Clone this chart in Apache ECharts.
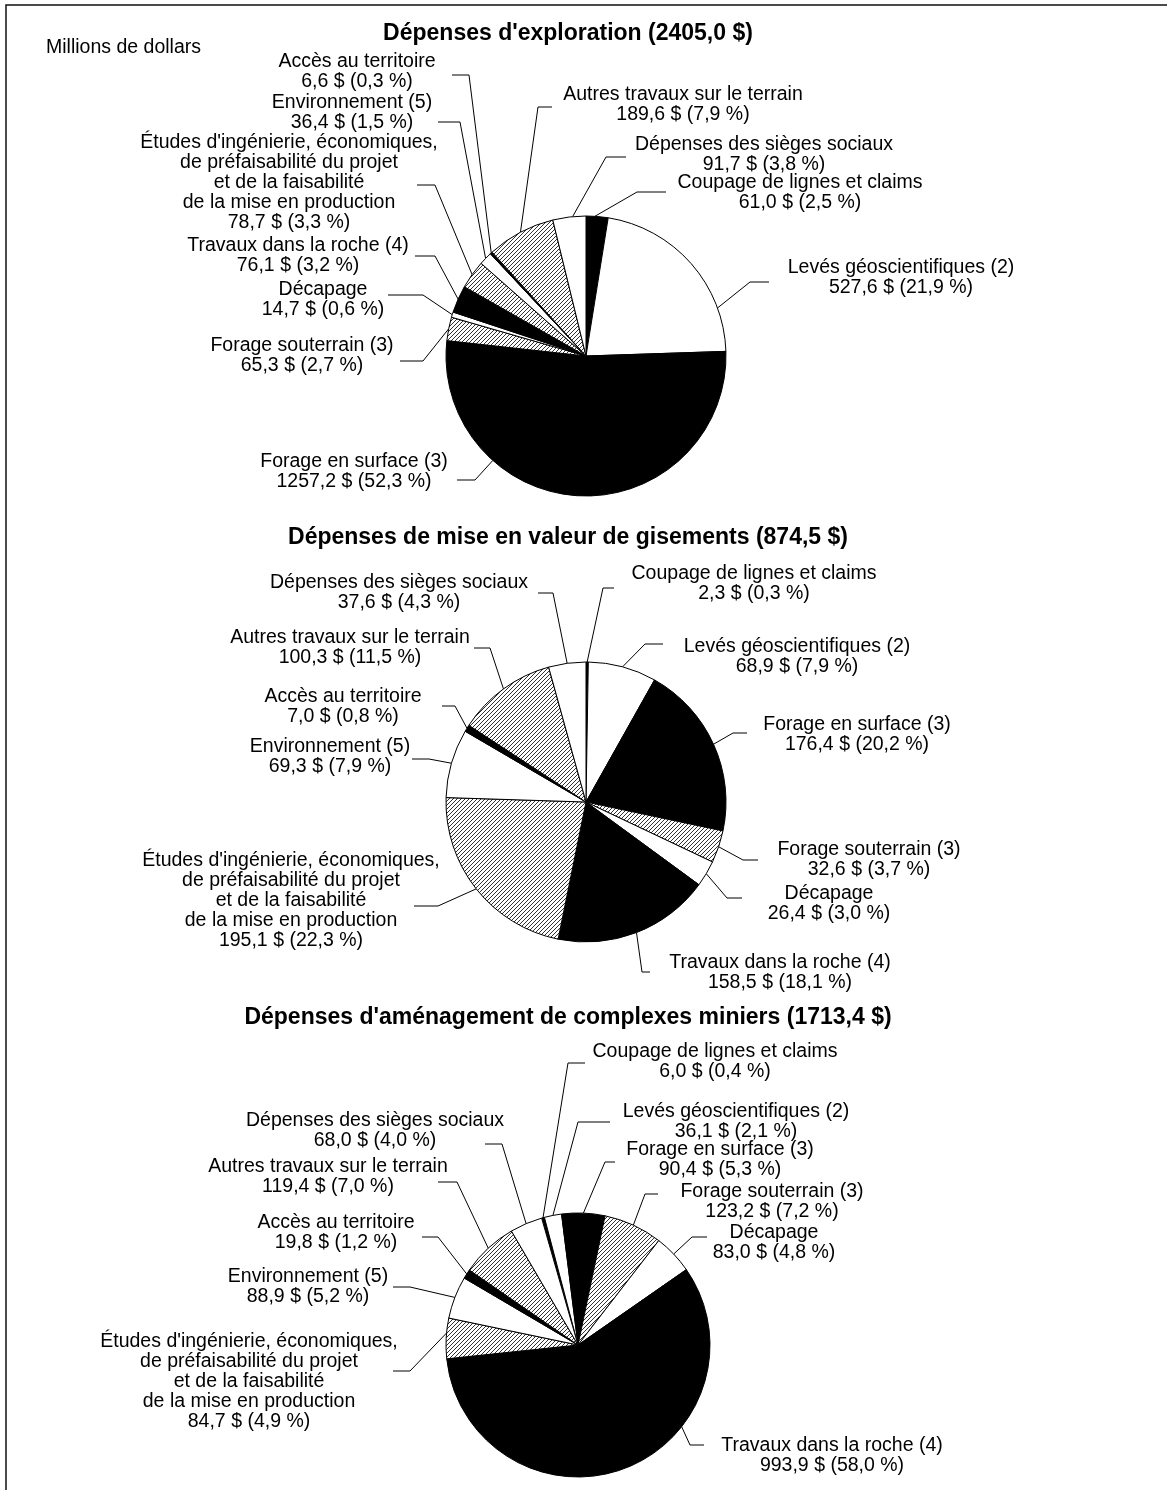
<!DOCTYPE html>
<html lang="fr">
<head>
<meta charset="utf-8">
<title>Dépenses d'exploration, de mise en valeur et d'aménagement</title>
<script src="https://cdn.jsdelivr.net/npm/echarts@6/dist/echarts.min.js"></script>
<style>
  html, body { margin: 0; padding: 0; background: #fff; }
  #chart { width: 1167px; height: 1490px; }
</style>
</head>
<body>
<div id="chart"></div>
<script>
// Expense categories, in clockwise order from the start of each pie
const categories = [
  'Coupage de lignes et claims',
  'Levés géoscientifiques (2)',
  'Forage en surface (3)',
  'Forage souterrain (3)',
  'Décapage',
  'Travaux dans la roche (4)',
  "Études d'ingénierie, économiques,\nde préfaisabilité du projet\net de la faisabilité\nde la mise en production",
  'Environnement (5)',
  'Accès au territoire',
  'Autres travaux sur le terrain',
  'Dépenses des sièges sociaux'
];

// Millions de dollars
const explorationValues = [61.0, 527.6, 1257.2, 65.3, 14.7, 76.1, 78.7, 36.4, 6.6, 189.6, 91.7];
const explorationPct    = [2.5, 21.9, 52.3, 2.7, 0.6, 3.2, 3.3, 1.5, 0.3, 7.9, 3.8];

const miseEnValeurValues = [2.3, 68.9, 176.4, 32.6, 26.4, 158.5, 195.1, 69.3, 7.0, 100.3, 37.6];
const miseEnValeurPct    = [0.3, 7.9, 20.2, 3.7, 3.0, 18.1, 22.3, 7.9, 0.8, 11.5, 4.3];

const amenagementValues = [6.0, 36.1, 90.4, 123.2, 83.0, 993.9, 84.7, 88.9, 19.8, 119.4, 68.0];
const amenagementPct    = [0.4, 2.1, 5.3, 7.2, 4.8, 58.0, 4.9, 5.2, 1.2, 7.0, 4.0];

const totals = [2405.0, 874.5, 1713.4];
const titles = [
  "Dépenses d'exploration",
  'Dépenses de mise en valeur de gisements',
  "Dépenses d'aménagement de complexes miniers"
];

// Fill style of each category: solid black, white, or diagonal hatching
const fillKinds = ['solid', 'blank', 'solid', 'hatch', 'blank', 'solid', 'hatch', 'blank', 'solid', 'hatch', 'blank'];

// Label placement per pie: [text centre x, text centre y, elbow x, segment end x, segment y, anchor fraction along the arc]
const explorationLabelLayout = [
  [800, 193, 637, 666, 192, 0.4],
  [901, 278, 750, 769, 282, 0.77],
  [354, 472, 475, 457, 480, 0.71],
  [302, 356, 423, 400, 361, 0.5],
  [323, 300, 423, 388, 295, 0.5],
  [298, 256, 435, 415, 256, 0.5],
  [289, 183, 435, 417, 185, 0.5],
  [352, 113, 460, 438, 122, 0.5],
  [357, 72, 469, 452, 75, 0.5],
  [683, 105, 538, 552, 107, 0.5],
  [764, 155, 606, 626, 157, 0.6]
];
const miseEnValeurLabelLayout = [
  [754, 584, 603, 614, 588, 0.5],
  [797, 657, 645, 663, 644, 0.5],
  [857, 735, 733, 747, 733, 0.5],
  [869, 860, 743, 758, 860, 0.5],
  [829, 904, 727, 742, 898, 0.5],
  [780, 973, 642, 650, 972, 0.5],
  [291, 901, 438, 414, 906, 0.5],
  [330, 757, 429, 412, 759, 0.5],
  [343, 707, 455, 442, 706, 0.5],
  [350, 648, 490, 474, 648, 0.5],
  [399, 593, 553, 538, 593, 0.5]
];
const amenagementLabelLayout = [
  [715, 1062, 568, 585, 1063, 0.5],
  [736, 1122, 578, 610, 1122, 0.5],
  [720, 1160, 605, 615, 1162, 0.5],
  [772, 1202, 645, 658, 1194, 0.5],
  [774, 1243, 692, 707, 1237, 0.5],
  [832, 1456, 690, 704, 1445, 0.35],
  [249, 1382, 410, 393, 1371, 0.63],
  [308, 1287, 410, 393, 1287, 0.5],
  [336, 1233, 438, 422, 1237, 0.5],
  [328, 1177, 457, 438, 1182, 0.5],
  [375, 1131, 502, 485, 1144, 0.5]
];

const FONT = "'Liberation Sans', Arial, Helvetica, sans-serif";
const fr = v => v.toFixed(1).replace('.', ',');

function makeHatch() {
  const c = document.createElement('canvas');
  c.width = 4; c.height = 4;
  const g = c.getContext('2d');
  g.fillStyle = '#ffffff';
  g.fillRect(0, 0, 4, 4);
  g.fillStyle = '#333333';
  for (let i = 0; i < 4; i++) g.fillRect(i, 3 - i, 1, 1);
  return c;
}
const hatch = { image: makeHatch(), repeat: 'repeat' };
const fillFor = kind => kind === 'solid' ? '#000000' : kind === 'hatch' ? hatch : '#ffffff';

const chart = echarts.init(document.getElementById('chart'), null, { renderer: 'canvas' });

function labelLayoutFor(layout) {
  return function (params) {
    const [tx, ty, elbowX, endX, segY, frac] = layout[params.dataIndex];
    let p0 = params.labelLinePoints ? params.labelLinePoints[0] : [elbowX, segY];
    try {
      const lay = chart.getModel().getSeriesByIndex(params.seriesIndex)
        .getData().getItemLayout(params.dataIndex);
      if (lay && lay.r != null) {
        const a = lay.startAngle + frac * (lay.endAngle - lay.startAngle);
        p0 = [lay.cx + lay.r * Math.cos(a), lay.cy + lay.r * Math.sin(a)];
      }
    } catch (e) { /* keep the default anchor */ }
    return {
      x: tx, y: ty,
      align: 'center', verticalAlign: 'middle',
      labelLinePoints: [p0, [elbowX, segY], [endX, segY]]
    };
  };
}

function pieSeries(values, pcts, layout, center, radius, startAngle) {
  return {
    type: 'pie',
    center: center,
    radius: radius,
    startAngle: startAngle,
    clockwise: true,
    avoidLabelOverlap: false,
    animation: false,
    silent: true,
    emphasis: { disabled: true },
    itemStyle: { borderColor: '#000', borderWidth: 1 },
    label: {
      show: true,
      position: 'outside',
      color: '#000',
      fontFamily: FONT,
      fontSize: 19.5,
      lineHeight: 20,
      overflow: 'none',
      formatter: p => `${p.name}\n${fr(p.value)} $ (${fr(pcts[p.dataIndex])} %)`
    },
    labelLine: { show: true, lineStyle: { color: '#000', width: 1 } },
    labelLayout: labelLayoutFor(layout),
    data: categories.map((name, i) => ({
      name: name,
      value: values[i],
      itemStyle: { color: fillFor(fillKinds[i]) }
    }))
  };
}

const titleY = [34, 538, 1018];

const option = {
  backgroundColor: '#ffffff',
  animation: false,
  title: titles.map((t, i) => ({
    text: `${t} (${fr(totals[i])} $)`,
    left: 568,
    top: titleY[i],
    textAlign: 'center',
    textVerticalAlign: 'middle',
    padding: 0,
    textStyle: { fontFamily: FONT, fontSize: 23, fontWeight: 'bold', color: '#000' }
  })).concat([{
    text: 'Millions de dollars',
    left: 46,
    top: 48,
    textVerticalAlign: 'middle',
    padding: 0,
    textStyle: { fontFamily: FONT, fontSize: 19.5, fontWeight: 'normal', color: '#000' }
  }]),
  graphic: [{
    type: 'rect',
    silent: true,
    z: 100,
    shape: { x: 6, y: 5, width: 1400, height: 1700 },
    style: { fill: 'transparent', stroke: '#111', lineWidth: 1.5 }
  }],
  series: [
    pieSeries(explorationValues, explorationPct, explorationLabelLayout, [586, 356], 140, 90),
    pieSeries(miseEnValeurValues, miseEnValeurPct, miseEnValeurLabelLayout, [586, 802], 140, 90),
    pieSeries(amenagementValues, amenagementPct, amenagementLabelLayout, [578, 1345], 132, 106)
  ]
};

chart.setOption(option);
</script>
</body>
</html>
